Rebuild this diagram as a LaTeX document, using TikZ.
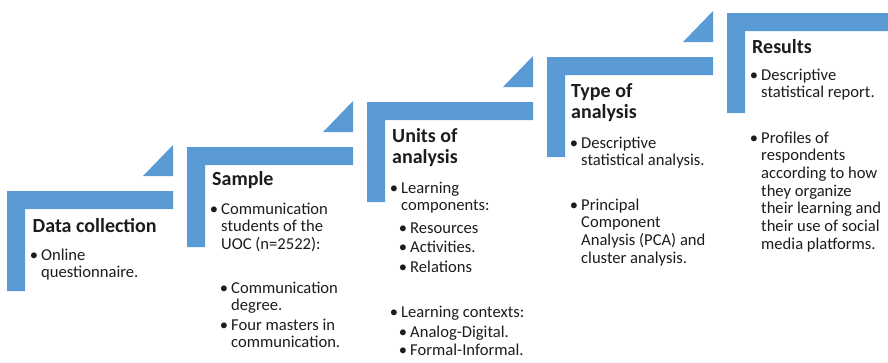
\documentclass[tikz,border=0pt]{standalone}
\usepackage{fontspec}
\setmainfont{Carlito}
\definecolor{stepblue}{HTML}{5B9BD5}
\definecolor{inktext}{HTML}{1C1C1C}
% bullet hanging to the left of the item text
\newcommand\bul{\llap{\textbullet\hspace{3pt}}}
% stacked lines whose reference point is the first baseline
\newcommand\stack[1]{\begin{tabular}[t]{@{}l@{}}#1\end{tabular}}
\begin{document}
\begin{tikzpicture}[x=1pt,y=-1pt,
  steptitle/.style={anchor=base west, inner sep=0pt,
    font=\fontsize{20}{21}\selectfont\bfseries, text=inktext},
  stepbody/.style={anchor=base west, inner sep=0pt,
    font=\fontsize{16.6}{17.7}\selectfont, text=inktext}]
\clip (0,0) rectangle (888,362);
% staircase of L-shaped brackets, each with a small corner triangle
\foreach \x/\y in {7/191,187/147,367/102,547/57,727/13} {
  \fill[stepblue] (\x,\y) -- ++(166,0) -- ++(0,18) -- ++(-148,0)
    -- ++(0,82) -- ++(-18,0) -- cycle;
  \fill[stepblue] (\x+136,\y-15) -- (\x+166,\y-15) -- (\x+166,\y-46) -- cycle;
}
% step 1
\node[steptitle] (t1) at (32.5,232) {Data collection};
\node[stepbody] (b1a) at (41,260) {\stack{\bul Online\\questionnaire.}};
% step 2
\node[steptitle] (t2) at (212,185) {Sample};
\node[stepbody] (b2a) at (221,214) {\stack{\bul Communication\\students of the\\UOC (n=2522):}};
\node[stepbody] (b2b) at (231,293) {\stack{\bul Communication\\degree.}};
\node[stepbody] (b2c) at (231,330) {\stack{\bul Four masters in\\communication.}};
% step 3
\node[steptitle] (t3) at (392,142) {\stack{Units of\\analysis}};
\node[stepbody] (b3a) at (401,193) {\stack{\bul Learning\\components:}};
\node[stepbody] (b3b) at (410,233) {\bul Resources};
\node[stepbody] (b3c) at (410,252) {\bul Activities.};
\node[stepbody] (b3d) at (410,272) {\bul Relations};
\node[stepbody] (b3e) at (401,317) {\bul Learning contexts:};
\node[stepbody] (b3f) at (410,337) {\bul Analog-Digital.};
\node[stepbody] (b3g) at (410,355) {\bul Formal-Informal.};
% step 4
\node[steptitle] (t4) at (571,97) {\stack{Type of\\analysis}};
\node[stepbody] (b4a) at (581,148) {\stack{\bul Descriptive\\statistical analysis.}};
\node[stepbody] (b4b) at (581,210) {\stack{\bul Principal\\Component\\Analysis (PCA) and\\cluster analysis.}};
% step 5
\node[steptitle] (t5) at (752,53) {Results};
\node[stepbody] (b5a) at (761,80) {\stack{\bul Descriptive\\statistical report.}};
\node[stepbody] (b5b) at (761,143) {\stack{\bul Profiles of\\respondents\\according to how\\they organize\\their learning and\\their use of social\\media platforms.}};
\end{tikzpicture}
\end{document}
